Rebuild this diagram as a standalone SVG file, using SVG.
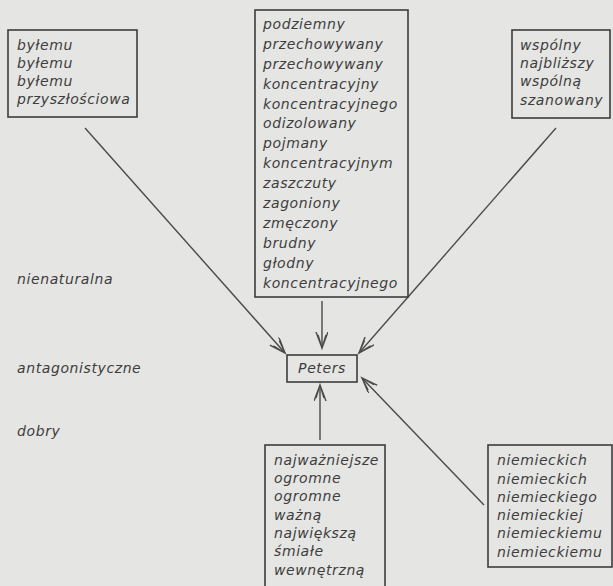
<svg xmlns="http://www.w3.org/2000/svg" width="613" height="586" viewBox="0 0 613 586">
<style>
.bg{fill:#e5e5e3}
.box{fill:none;stroke:#3c3c3c;stroke-width:1.6}
.t{font-family:"DejaVu Sans",sans-serif;font-style:oblique;font-size:14px;letter-spacing:0.6px;fill:#3d3d3d}
.c{fill:none;stroke:#4a4a4a;stroke-width:1.4}
</style>
<defs>
<marker id="ah" markerUnits="userSpaceOnUse" markerWidth="20" markerHeight="16" refX="16" refY="6" orient="auto">
<path d="M0,0 L16,6 L0,12 M3,2 L16,6 L3,10" fill="none" stroke="#4a4a4a" stroke-width="1.4"/>
</marker>
</defs>
<rect class="bg" x="0" y="0" width="613" height="586"/>
<g id="edges">
<line class="c" x1="85" y1="128" x2="285" y2="353" marker-end="url(#ah)"/>
<line class="c" x1="322" y1="301" x2="322" y2="348" marker-end="url(#ah)"/>
<line class="c" x1="556" y1="128" x2="359" y2="353" marker-end="url(#ah)"/>
<line class="c" x1="320" y1="440" x2="320" y2="385" marker-end="url(#ah)"/>
<line class="c" x1="484" y1="505" x2="362" y2="378" marker-end="url(#ah)"/>
</g>
<g id="left-labels">
<text class="t" x="17" y="284">nienaturalna</text>
<text class="t" x="17" y="373">antagonistyczne</text>
<text class="t" x="17" y="436">dobry</text>
</g>
<g id="box-left">
<rect class="box" x="8" y="30" width="129" height="87"/>
<text class="t" x="17" y="50">byłemu</text>
<text class="t" x="17" y="68">byłemu</text>
<text class="t" x="17" y="86">byłemu</text>
<text class="t" x="17" y="104">przyszłościowa</text>
</g>
<g id="box-top">
<rect class="box" x="255" y="10" width="153" height="287"/>
<text class="t" x="263" y="29">podziemny</text>
<text class="t" x="263" y="49">przechowywany</text>
<text class="t" x="263" y="69">przechowywany</text>
<text class="t" x="263" y="89">koncentracyjny</text>
<text class="t" x="263" y="109">koncentracyjnego</text>
<text class="t" x="263" y="128">odizolowany</text>
<text class="t" x="263" y="148">pojmany</text>
<text class="t" x="263" y="168">koncentracyjnym</text>
<text class="t" x="263" y="188">zaszczuty</text>
<text class="t" x="263" y="208">zagoniony</text>
<text class="t" x="263" y="228">zmęczony</text>
<text class="t" x="263" y="248">brudny</text>
<text class="t" x="263" y="268">głodny</text>
<text class="t" x="263" y="288">koncentracyjnego</text>
</g>
<g id="box-right">
<rect class="box" x="512" y="30" width="98" height="88"/>
<text class="t" x="520" y="50">wspólny</text>
<text class="t" x="520" y="68">najbliższy</text>
<text class="t" x="520" y="86">wspólną</text>
<text class="t" x="520" y="105">szanowany</text>
</g>
<g id="peters">
<rect class="box" x="287" y="355" width="70" height="27"/>
<text class="t" x="322" y="373" text-anchor="middle">Peters</text>
</g>
<g id="box-bottom">
<rect class="box" x="265" y="445" width="120" height="150"/>
<text class="t" x="274" y="465">najważniejsze</text>
<text class="t" x="274" y="483">ogromne</text>
<text class="t" x="274" y="501">ogromne</text>
<text class="t" x="274" y="520">ważną</text>
<text class="t" x="274" y="538">największą</text>
<text class="t" x="274" y="556">śmiałe</text>
<text class="t" x="274" y="575">wewnętrzną</text>
</g>
<g id="box-bottom-right">
<rect class="box" x="488" y="445" width="124" height="122"/>
<text class="t" x="497" y="465">niemieckich</text>
<text class="t" x="497" y="484">niemieckich</text>
<text class="t" x="497" y="502">niemieckiego</text>
<text class="t" x="497" y="520">niemieckiej</text>
<text class="t" x="497" y="538">niemieckiemu</text>
<text class="t" x="497" y="557">niemieckiemu</text>
</g>
</svg>
